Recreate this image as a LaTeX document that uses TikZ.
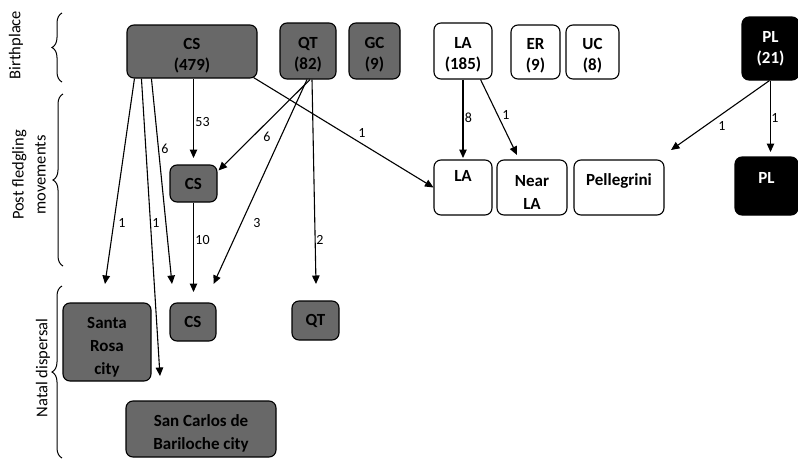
\documentclass[tikz,border=0pt]{standalone}
\usepackage{fontspec}
\setmainfont{Carlito}
\usetikzlibrary{arrows.meta,decorations.pathreplacing,calc}
\definecolor{boxgray}{RGB}{104,104,104}
\newcommand{\upA}{\rule{0pt}{19pt}}
\newcommand{\upB}{\rule{0pt}{21pt}}
\newcommand{\upC}{\rule{0pt}{18pt}}
\begin{document}
\begin{tikzpicture}[x=1pt,y=-1pt,
  box/.style={draw=black, line width=1.1pt, rounded corners=7pt, inner sep=0pt, align=center, font=\fontsize{17}{23}\selectfont\bfseries},
  gbox/.style={box, fill=boxgray},
  wbox/.style={box, fill=white},
  kbox/.style={box, fill=black, text=white},
  toprow/.style={font=\fontsize{17}{21}\selectfont\bfseries},
  arr/.style={-{Triangle[length=8.5pt,width=7.5pt]}, line width=1.1pt},
  num/.style={font=\fontsize{14}{16}\selectfont, inner sep=0pt},
  side/.style={font=\fontsize{16.5}{22}\selectfont, rotate=90, align=center, inner sep=0pt},
  brc/.style={decorate, decoration={brace, amplitude=10pt}, line width=1pt}
]
\useasboundingbox (0,0) rectangle (798,458);

% top row
\node[gbox, toprow, minimum width=130pt, minimum height=53pt] (cs1) at (192,51.5) {\upA CS\\(479)};
\node[gbox, toprow, minimum width=56pt, minimum height=56pt] (qt1) at (308,51) {\upA QT\\(82)};
\node[gbox, toprow, minimum width=51pt, minimum height=56pt] (gc1) at (374.5,51) {\upA GC\\(9)};
\node[wbox, toprow, minimum width=58pt, minimum height=56pt] (la1) at (463,51) {\upA LA\\(185)};
\node[wbox, toprow, minimum width=49pt, minimum height=54pt] (er1) at (535.5,52) {\upA ER\\(9)};
\node[wbox, toprow, minimum width=53pt, minimum height=54pt] (uc1) at (592.5,52) {\upA UC\\(8)};
\node[kbox, toprow, minimum width=57pt, minimum height=63pt] (pl1) at (770.5,48.5) {PL\\(21)};

% middle row
\node[gbox, minimum width=47pt, minimum height=37pt] (cs2) at (193.5,183.5) {CS};
\node[wbox, minimum width=58pt, minimum height=55pt] (la2) at (463,187.5) {LA\\\mbox{}};
\node[wbox, minimum width=70pt, minimum height=55pt] (near) at (532,187.5) {\upB Near\\LA};
\node[wbox, minimum width=90pt, minimum height=55pt] (pel) at (619,187.5) {\upC Pellegrini\\\mbox{}};
\node[kbox, minimum width=63pt, minimum height=58pt] (pl2) at (766.5,186) {\upC PL\\\mbox{}};

% bottom row
\node[gbox, minimum width=88pt, minimum height=78pt] (sr) at (107,342) {\upB Santa\\Rosa\\city};
\node[gbox, minimum width=46pt, minimum height=38pt] (cs3) at (193,322) {CS};
\node[gbox, minimum width=47pt, minimum height=39pt] (qt3) at (315.5,320.5) {QT};
\node[gbox, minimum width=150pt, minimum height=56pt] (scb) at (201,429) {\upB San Carlos de\\Bariloche city};

% free ends
\coordinate (e1) at (105,284);
\coordinate (e2) at (160,376);
\coordinate (e3) at (172,284);
\coordinate (e53) at (193.5,158);
\coordinate (e4) at (193.5,292);
\coordinate (e5) at (213.5,284);
\coordinate (e6) at (316,284);
\coordinate (e7) at (517,155);
\coordinate (e8) at (671,150);
\coordinate (e9) at (770.5,152);
\coordinate (e10) at (463,158);

% connectors
\draw[arr] ($(cs1.south west)+(8,0)$) -- (e1);
\draw[arr] ($(cs1.south west)+(15,0)$) -- (e2);
\draw[arr] ($(cs1.south west)+(25,0)$) -- (e3);
\draw[arr] ($(cs1.south)+(1.5,0)$) -- (e53);
\draw[arr] ($(cs1.south east)+(-4,-1)$) -- (la2.west);
\draw[arr] ($(qt1.south)+(2,0)$) -- ($(cs2.north east)+(1,6)$);
\draw[arr] ($(qt1.south)+(-1,0)$) -- (e5);
\draw[arr] ($(qt1.south)+(4,0)$) -- (e6);
\draw[arr] (cs2.south) -- (e4);
\draw[arr] (la1.south) -- (e10);
\draw[arr] ($(la1.south east)+(-12,0)$) -- (e7);
\draw[arr] ($(pl1.south)+(-1,0)$) -- (e8);
\draw[arr] (pl1.south) -- (e9);

% numbers
\node[num] (n1) at (122,223) {1};
\node[num] (n2) at (156,223) {1};
\node[num] (n3) at (165,149) {6};
\node[num] (n4) at (202.5,122) {53};
\node[num] (n5) at (362,133) {1};
\node[num] (n6) at (267,137) {6};
\node[num] (n7) at (257,223) {3};
\node[num] (n8) at (320,240) {2};
\node[num] (n9) at (202.5,240) {10};
\node[num] (n10) at (468.5,118) {8};
\node[num] (n11) at (506,115) {1};
\node[num] (n12) at (722,126) {1};
\node[num] (n13) at (775,118) {1};

% side labels and braces
\node[side] (lb) at (16,45) {Birthplace};
\node[side] (lp) at (29,175) {Post fledgling\\movements};
\node[side] (ln) at (43,368) {Natal dispersal};
\draw[brc] (62,82) -- (62,13);
\draw[brc] (63,266) -- (63,94);
\draw[brc] (62,458) -- (62,286);
\end{tikzpicture}
\end{document}
